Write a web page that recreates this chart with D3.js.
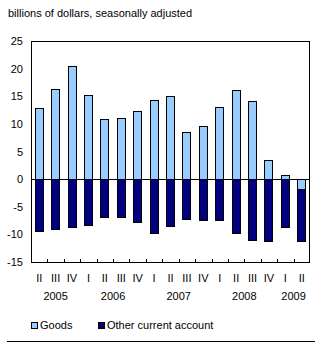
<!DOCTYPE html>
<html>
<head>
<meta charset="utf-8">
<title>chart</title>
<script src="https://cdn.jsdelivr.net/npm/d3@7"></script>
<style>
body { margin: 0; background: #fff; }
svg text { font-family: "Liberation Sans", Arial, sans-serif; font-size: 11px; fill: #000; }
</style>
</head>
<body>
<div id="chart"></div>
<script>
// quarters, 2005 Q2 to 2009 Q2
var quarters = ['II', 'III', 'IV', 'I', 'II', 'III', 'IV', 'I', 'II', 'III', 'IV', 'I', 'II', 'III', 'IV', 'I', 'II'];
var years = [
    { label: '2005', from: 0, to: 2 },
    { label: '2006', from: 3, to: 6 },
    { label: '2007', from: 7, to: 10 },
    { label: '2008', from: 11, to: 14 },
    { label: '2009', from: 15, to: 16 }
];
var goods = [12.8, 16.4, 20.4, 15.3, 10.8, 11.0, 12.3, 14.3, 15.0, 8.6, 9.7, 13.0, 16.2, 14.1, 3.4, 0.7, -1.8];
var other = [-9.5, -9.0, -8.6, -8.3, -6.8, -6.9, -7.7, -9.8, -8.5, -7.2, -7.4, -7.4, -9.7, -11.0, -11.3, -8.6, -9.5];
var yTicks = [25, 20, 15, 10, 5, 0, -5, -10, -15];

var W = 321, H = 347;
var margin = { top: 41, left: 31, right: 11, bottom: 85 };

var svg = d3.select('#chart').append('svg')
    .attr('width', W)
    .attr('height', H);

var x = d3.scaleBand()
    .domain(d3.range(quarters.length))
    .range([margin.left, W - margin.right])
    .paddingInner(0.45)
    .paddingOuter(0.225);

var y = d3.scaleLinear()
    .domain([-15, 25])
    .range([H - margin.bottom, margin.top]);

svg.append('text')
    .attr('x', 8)
    .attr('y', 17)
    .text('billions of dollars, seasonally adjusted');

// y labels
svg.selectAll('.ylab')
    .data(yTicks)
    .enter()
    .append('text')
    .attr('x', 23)
    .attr('y', function(d) { return y(d) + 4; })
    .attr('text-anchor', 'end')
    .text(function(d) { return d; });

// goods: from 0 to value
svg.selectAll('.goods')
    .data(goods)
    .enter()
    .append('rect')
    .attr('x', function(d, i) { return Math.round(x(i)) + 0.5; })
    .attr('y', function(d) { return Math.round(y(Math.max(d, 0))) + 0.5; })
    .attr('width', Math.round(x.bandwidth()) - 1)
    .attr('height', function(d) { return Math.round(Math.abs(y(d) - y(0))); })
    .attr('fill', '#99ccff')
    .attr('stroke', '#000');

// other current account, stacked below any negative goods
svg.selectAll('.other')
    .data(other)
    .enter()
    .append('rect')
    .attr('x', function(d, i) { return Math.round(x(i)) + 0.5; })
    .attr('y', function(d, i) { return Math.round(y(Math.min(goods[i], 0))) + 0.5; })
    .attr('width', Math.round(x.bandwidth()) - 1)
    .attr('height', function(d) { return Math.round(Math.abs(y(d) - y(0))); })
    .attr('fill', '#000080')
    .attr('stroke', '#000');

// zero line
svg.append('line')
    .attr('x1', margin.left).attr('x2', W - margin.right)
    .attr('y1', Math.round(y(0)) + 0.5).attr('y2', Math.round(y(0)) + 0.5)
    .attr('stroke', '#000');

// frame
svg.append('rect')
    .attr('x', margin.left + 0.5)
    .attr('y', margin.top + 0.5)
    .attr('width', W - margin.right - margin.left - 1)
    .attr('height', Math.round(y(-15) - y(25)))
    .attr('fill', 'none')
    .attr('stroke', '#000');

// small ticks between categories
svg.selectAll('.tick')
    .data(d3.range(1, quarters.length))
    .enter()
    .append('line')
    .attr('x1', function(d) { return Math.round(x(d) - x.step() * x.paddingInner() / 2) + 0.5; })
    .attr('x2', function(d) { return Math.round(x(d) - x.step() * x.paddingInner() / 2) + 0.5; })
    .attr('y1', Math.round(y(-15)))
    .attr('y2', Math.round(y(-15)) - 3)
    .attr('stroke', '#000');

svg.selectAll('.qlab')
    .data(quarters)
    .enter()
    .append('text')
    .attr('x', function(d, i) { return x(i) + x.bandwidth() / 2; })
    .attr('y', 282)
    .attr('text-anchor', 'middle')
    .text(function(d) { return d; });

svg.selectAll('.yearlab')
    .data(years)
    .enter()
    .append('text')
    .attr('x', function(d) { return (x(d.from) + x(d.to) + x.bandwidth()) / 2; })
    .attr('y', 300)
    .attr('text-anchor', 'middle')
    .text(function(d) { return d.label; });

// legend
var legend = [
    { label: 'Goods', color: '#99ccff', x: 31 },
    { label: 'Other current account', color: '#000080', x: 98 }
];
var lg = svg.selectAll('.leg')
    .data(legend)
    .enter()
    .append('g')
    .attr('transform', function(d) { return 'translate(' + d.x + ',322)'; });
lg.append('rect')
    .attr('x', 0.5).attr('y', 0.5)
    .attr('width', 6).attr('height', 6)
    .attr('fill', function(d) { return d.color; })
    .attr('stroke', '#000');
lg.append('text')
    .attr('x', 9)
    .attr('y', 7)
    .text(function(d) { return d.label; });

svg.append('line')
    .attr('x1', 7).attr('x2', 315)
    .attr('y1', 341.5).attr('y2', 341.5)
    .attr('stroke', '#000');
</script>
</body>
</html>
